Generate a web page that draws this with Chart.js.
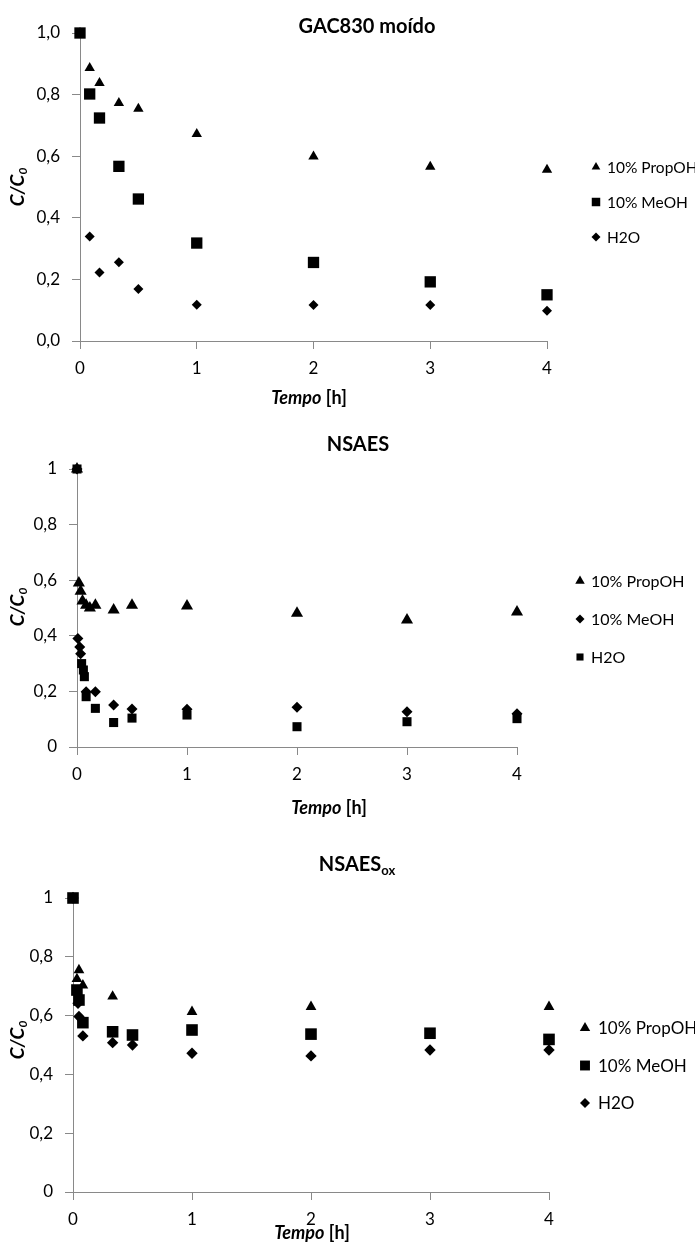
<!DOCTYPE html>
<html>
<head>
<meta charset="utf-8">
<script src="https://cdn.jsdelivr.net/npm/chart.js@4.4.1/dist/chart.umd.min.js"></script>
<style>
body { margin: 0; background: #fff; }
.panel { position: absolute; left: 0; }
</style>
</head>
<body>
<div class="panel" style="top:0px"><canvas id="c1" width="695" height="415"></canvas></div>
<div class="panel" style="top:415px"><canvas id="c2" width="695" height="420"></canvas></div>
<div class="panel" style="top:835px"><canvas id="c3" width="695" height="409"></canvas></div>
<script>
let seriesNames = ['10% PropOH', '10% MeOH', 'H2O'];

// GAC830 moido
let gacTime = [0, 0.083, 0.167, 0.333, 0.5, 1, 2, 3, 4];
let gacPropOH = [1.0, 0.886, 0.838, 0.773, 0.754, 0.672, 0.599, 0.566, 0.556];
let gacMeOH = [1.0, 0.802, 0.724, 0.567, 0.461, 0.318, 0.255, 0.192, 0.150];
let gacH2O = [1.0, 0.339, 0.222, 0.256, 0.169, 0.118, 0.117, 0.117, 0.098];

// NSAES
let nsTimePropOH = [0, 0.017, 0.033, 0.05, 0.083, 0.117, 0.167, 0.333, 0.5, 1, 2, 3, 4];
let nsPropOH = [1.0, 0.59, 0.56, 0.525, 0.51, 0.5, 0.51, 0.493, 0.51, 0.507, 0.481, 0.457, 0.486];
let nsTimeMeOH = [0, 0.008, 0.025, 0.033, 0.083, 0.167, 0.333, 0.5, 1, 2, 3, 4];
let nsMeOH = [1.0, 0.39, 0.36, 0.335, 0.199, 0.199, 0.151, 0.137, 0.136, 0.143, 0.127, 0.12];
let nsTimeH2O = [0, 0.042, 0.058, 0.067, 0.083, 0.167, 0.333, 0.5, 1, 2, 3, 4];
let nsH2O = [1.0, 0.30, 0.277, 0.253, 0.181, 0.139, 0.088, 0.104, 0.115, 0.073, 0.091, 0.102];

// NSAES ox
let oxTimePropOH = [0, 0.033, 0.05, 0.083, 0.333, 1, 2, 4];
let oxPropOH = [1.0, 0.725, 0.755, 0.703, 0.665, 0.613, 0.63, 0.63];
let oxTimeMeOH = [0, 0.033, 0.05, 0.083, 0.333, 0.5, 1, 2, 3, 4];
let oxMeOH = [1.0, 0.687, 0.653, 0.576, 0.545, 0.534, 0.551, 0.537, 0.54, 0.519];
let oxTimeH2O = [0, 0.042, 0.05, 0.083, 0.333, 0.5, 1, 2, 3, 4];
let oxH2O = [1.0, 0.642, 0.597, 0.531, 0.508, 0.5, 0.472, 0.463, 0.483, 0.483];

let xTicks = [0, 1, 2, 3, 4];

function toPoints(xs, ys) {
    return xs.map((x, i) => ({x: x, y: ys[i]}));
}

function drawParts(ctx, parts, x, y) {
    let total = 0;
    parts.forEach(p => { ctx.font = p.font; total += ctx.measureText(p.text).width; });
    let cx = x - total / 2;
    parts.forEach(p => {
        ctx.font = p.font;
        ctx.textAlign = 'left';
        ctx.fillText(p.text, cx, y + (p.dy || 0));
        cx += ctx.measureText(p.text).width;
    });
}

const panelText = {
    id: 'panelText',
    afterDraw(chart, args, o) {
        let ctx = chart.ctx;
        ctx.save();
        ctx.fillStyle = '#000';
        ctx.textBaseline = 'middle';
        drawParts(ctx, o.title, o.titleX, o.titleY);
        drawParts(ctx, [
            {text: 'Tempo', font: 'italic bold 18px Lato'},
            {text: ' [h]', font: 'bold 18px Lato'}
        ], o.xTitleX, o.xTitleY);
        ctx.save();
        ctx.translate(18, o.yTitleY);
        ctx.rotate(-Math.PI / 2);
        drawParts(ctx, [
            {text: 'C/C', font: 'italic bold 19px Lato'},
            {text: '0', font: 'italic bold 12px Lato', dy: 5}
        ], 0, 0);
        ctx.restore();
        // legend
        chart.data.datasets.forEach((ds, i) => {
            let y = o.legendY + i * o.legendGap;
            ctx.fillStyle = '#000';
            Chart.helpers.drawPoint(ctx, {pointStyle: ds.pointStyle, radius: o.legendRadius[i], rotation: 0, borderWidth: 0}, o.legendX, y);
            ctx.font = o.legendSize + 'px Lato';
            ctx.textAlign = 'left';
            ctx.fillText(ds.label, o.legendTextX, y + 1);
        });
        ctx.restore();
    }
};

function makeChart(id, p) {
    let ctx = document.getElementById(id).getContext('2d');
    let H = ctx.canvas.height;
    let datasets = p.series.map((s, i) => ({
        label: seriesNames[i],
        data: toPoints(s.x, s.y),
        pointStyle: s.style,
        pointRadius: s.r,
        pointHoverRadius: s.r,
        backgroundColor: '#000',
        borderWidth: 0,
        clip: false
    }));
    return new Chart(ctx, {
        type: 'scatter',
        data: {datasets: datasets},
        options: {
            responsive: false,
            animation: false,
            devicePixelRatio: 1,
            layout: {padding: {left: 0, top: p.top, right: 695 - p.right, bottom: H - p.bottom - 40}},
            plugins: {
                legend: {display: false},
                tooltip: {enabled: false},
                panelText: p.text
            },
            scales: {
                x: {
                    type: 'linear', min: 0, max: 4,
                    afterBuildTicks: s => { s.ticks = xTicks.map(v => ({value: v})); },
                    ticks: {padding: 9, color: '#000', font: {family: 'Lato', size: 17}},
                    grid: {drawOnChartArea: false, tickLength: 8, color: '#898989'},
                    border: {color: '#898989'},
                    afterFit: s => { s.height = 40; }
                },
                y: {
                    min: 0, max: 1,
                    ticks: {
                        stepSize: 0.2, padding: 12, color: '#000', font: {family: 'Lato', size: 17},
                        callback: v => p.decimals ? v.toFixed(1).replace('.', ',') : String(+v.toFixed(1)).replace('.', ',')
                    },
                    grid: {drawOnChartArea: false, tickLength: 8, color: '#898989'},
                    border: {color: '#898989'},
                    afterFit: s => { s.width = p.left; }
                }
            }
        },
        plugins: [panelText]
    });
}

makeChart('c1', {
    left: 80, right: 547, top: 33, bottom: 341, decimals: true,
    series: [
        {x: gacTime, y: gacPropOH, style: 'triangle', r: 6},
        {x: gacTime, y: gacMeOH, style: 'rect', r: 8},
        {x: gacTime, y: gacH2O, style: 'rectRot', r: 5}
    ],
    text: {
        title: [{text: 'GAC830 moído', font: 'bold 20px Lato'}], titleX: 367, titleY: 27,
        xTitleX: 309, xTitleY: 398, yTitleY: 187,
        legendX: 596, legendTextX: 607, legendY: 167, legendGap: 35, legendSize: 15.5,
        legendRadius: [5, 6, 4.5]
    }
});

makeChart('c2', {
    left: 77, right: 517, top: 54, bottom: 332, decimals: false,
    series: [
        {x: nsTimePropOH, y: nsPropOH, style: 'triangle', r: 7},
        {x: nsTimeMeOH, y: nsMeOH, style: 'rectRot', r: 5.5},
        {x: nsTimeH2O, y: nsH2O, style: 'rect', r: 6.4}
    ],
    text: {
        title: [{text: 'NSAES', font: 'bold 20px Lato'}], titleX: 358, titleY: 30,
        xTitleX: 329, xTitleY: 393, yTitleY: 192,
        legendX: 580, legendTextX: 591, legendY: 166, legendGap: 38, legendSize: 16,
        legendRadius: [5.5, 4.5, 5]
    }
});

makeChart('c3', {
    left: 73, right: 549, top: 63, bottom: 357, decimals: false,
    series: [
        {x: oxTimePropOH, y: oxPropOH, style: 'triangle', r: 6.2},
        {x: oxTimeMeOH, y: oxMeOH, style: 'rect', r: 8.2},
        {x: oxTimeH2O, y: oxH2O, style: 'rectRot', r: 5.7}
    ],
    text: {
        title: [{text: 'NSAES', font: 'bold 20px Lato'}, {text: 'ox', font: 'bold 13px Lato', dy: 6}], titleX: 357, titleY: 30,
        xTitleX: 312, xTitleY: 398, yTitleY: 205,
        legendX: 585, legendTextX: 598, legendY: 193, legendGap: 37.5, legendSize: 17,
        legendRadius: [6, 7, 5]
    }
});
</script>
</body>
</html>
